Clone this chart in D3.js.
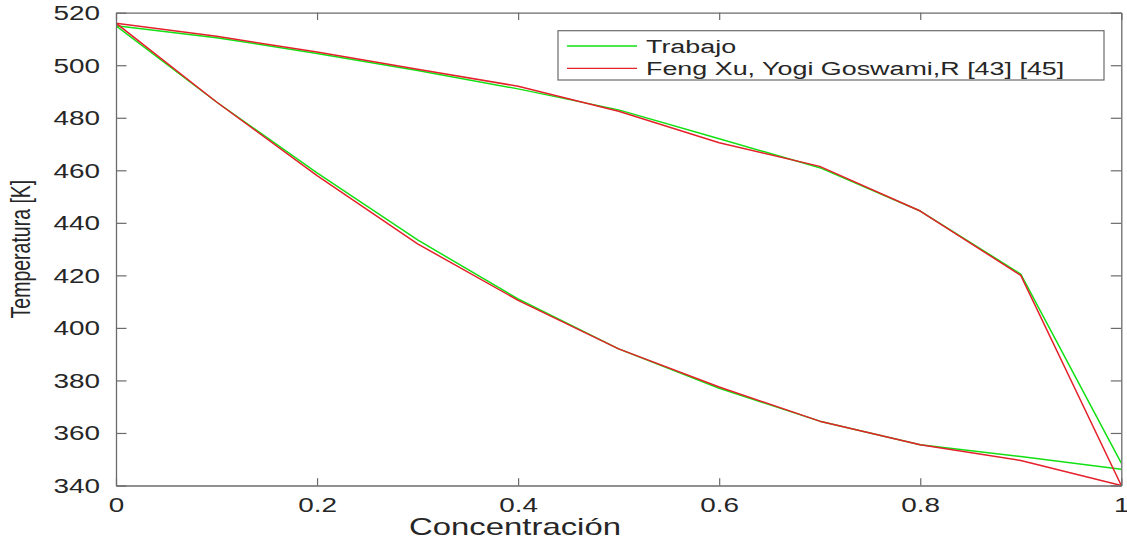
<!DOCTYPE html>
<html>
<head>
<meta charset="utf-8">
<script src="https://cdn.jsdelivr.net/npm/d3@7"></script>
<style>
  html, body { margin: 0; padding: 0; background: #fff; }
  svg { display: block; }
  text { font-family: "Liberation Sans", Arial, Helvetica, sans-serif; fill: #262626; }
</style>
</head>
<body>
<svg id="chart" width="1127" height="541"></svg>
<script>
// Concentration grid (mole fraction)
const concentracion = [0, 0.1, 0.2, 0.3, 0.4, 0.5, 0.6, 0.7, 0.8, 0.9, 1.0];

// "Trabajo" – dew (upper) and bubble (lower) temperatures [K]
const trabajoRocio   = [515.0, 510.5, 504.5, 498.0, 491.0, 483.0, 472.0, 461.0, 444.5, 420.5, 348.5];
const trabajoBurbuja = [515.0, 486.0, 459.0, 433.5, 411.0, 392.0, 377.0, 364.5, 355.5, 351.0, 346.2];

// "Feng Xu, Yogi Goswami,R [43] [45]" – dew and bubble temperatures [K]
const fengRocio   = [516.0, 511.0, 505.0, 498.5, 492.0, 482.5, 470.5, 461.5, 444.5, 420.0, 340.0];
const fengBurbuja = [516.0, 486.0, 458.0, 432.0, 410.5, 392.0, 377.5, 364.5, 355.5, 349.5, 340.0];

const xTicks = [0, 0.2, 0.4, 0.6, 0.8, 1];
const yTicks = [340, 360, 380, 400, 420, 440, 460, 480, 500, 520];

const seriesNames = ["Trabajo", "Feng Xu, Yogi Goswami,R [43] [45]"];
const seriesColors = ["#12e012", "#e4202a"];

// Horizontal stretch applied to all text glyphs
const SX = 1.43;

const svg = d3.select("#chart");
const plot = { left: 116, right: 1121.3, top: 12.7, bottom: 485.5 };

const x = d3.scaleLinear().domain([0, 1]).range([plot.left, plot.right]);
const y = d3.scaleLinear().domain([340, 520]).range([plot.bottom, plot.top]);

const axisColor = "#6b6b6b";

// Clip the curves to the axes box
svg.append("clipPath").attr("id", "plotClip")
  .append("rect")
  .attr("x", plot.left).attr("y", plot.top)
  .attr("width", plot.right - plot.left).attr("height", plot.bottom - plot.top);

// Curves
const line = d3.line().x(d => x(d[0])).y(d => y(d[1]));
const curves = [
  { data: trabajoRocio, c: 0 }, { data: trabajoBurbuja, c: 0 },
  { data: fengRocio, c: 1 },    { data: fengBurbuja, c: 1 }
];
const g = svg.append("g").attr("clip-path", "url(#plotClip)");
curves.forEach(cv => {
  g.append("path")
    .datum(concentracion.map((c, i) => [c, cv.data[i]]))
    .attr("d", line)
    .attr("fill", "none")
    .attr("stroke", seriesColors[cv.c])
    .attr("stroke-width", 1.5)
    .attr("stroke-linejoin", "round");
});

// Axes (ticks pointing inward, box on all sides)
function styleAxis(sel) {
  sel.selectAll("path.domain").attr("stroke", axisColor).attr("stroke-width", 1.3);
  sel.selectAll(".tick line").attr("stroke", axisColor).attr("stroke-width", 1.2);
}

const axB = svg.append("g").attr("transform", `translate(0,${plot.bottom})`)
  .call(d3.axisBottom(x).tickValues(xTicks).tickSizeInner(-7.3).tickSizeOuter(0)
    .tickFormat(d3.format("~g")));
styleAxis(axB);
axB.selectAll(".tick text")
  .attr("y", 26.5).attr("dy", 0)
  .attr("font-size", 19.5)
  .attr("transform", `scale(${SX},1)`)
  .style("fill", "#262626");

const axT = svg.append("g").attr("transform", `translate(0,${plot.top})`)
  .call(d3.axisTop(x).tickValues(xTicks).tickSizeInner(-7.3).tickSizeOuter(0).tickFormat(""));
styleAxis(axT);

const axL = svg.append("g").attr("transform", `translate(${plot.left},0)`)
  .call(d3.axisLeft(y).tickValues(yTicks).tickSizeInner(-10.5).tickSizeOuter(0)
    .tickFormat(d3.format("d")));
styleAxis(axL);
axL.selectAll(".tick text")
  .attr("x", -16 / SX).attr("dy", "0.35em")
  .attr("font-size", 19.5)
  .attr("transform", `scale(${SX},1)`)
  .style("fill", "#262626");

const axR = svg.append("g").attr("transform", `translate(${plot.right},0)`)
  .call(d3.axisRight(y).tickValues(yTicks).tickSizeInner(-10.5).tickSizeOuter(0).tickFormat(""));
styleAxis(axR);

// Axis labels
svg.append("text")
  .attr("transform", `translate(515,535) scale(${SX},1)`)
  .attr("text-anchor", "middle")
  .attr("font-size", 23)
  .text("Concentración");

svg.append("text")
  .attr("transform", `translate(30,${(plot.top + plot.bottom) / 2}) scale(${SX},1) rotate(-90)`)
  .attr("text-anchor", "middle")
  .attr("font-size", 19.5)
  .text("Temperatura [K]");

// Legend
const lg = svg.append("g");
lg.append("rect")
  .attr("x", 558).attr("y", 30.7).attr("width", 1104 - 558).attr("height", 80 - 30.7)
  .attr("fill", "#fff").attr("stroke", axisColor).attr("stroke-width", 1.2);
const rowsY = [46, 68.3];
seriesNames.forEach((name, i) => {
  lg.append("line")
    .attr("x1", 567).attr("x2", 637).attr("y1", rowsY[i]).attr("y2", rowsY[i])
    .attr("stroke", seriesColors[i]).attr("stroke-width", 1.3);
  lg.append("text")
    .attr("transform", `translate(646,${rowsY[i]}) scale(${SX},1)`)
    .attr("dy", "0.35em")
    .attr("font-size", 18.8)
    .text(name);
});
</script>
</body>
</html>
